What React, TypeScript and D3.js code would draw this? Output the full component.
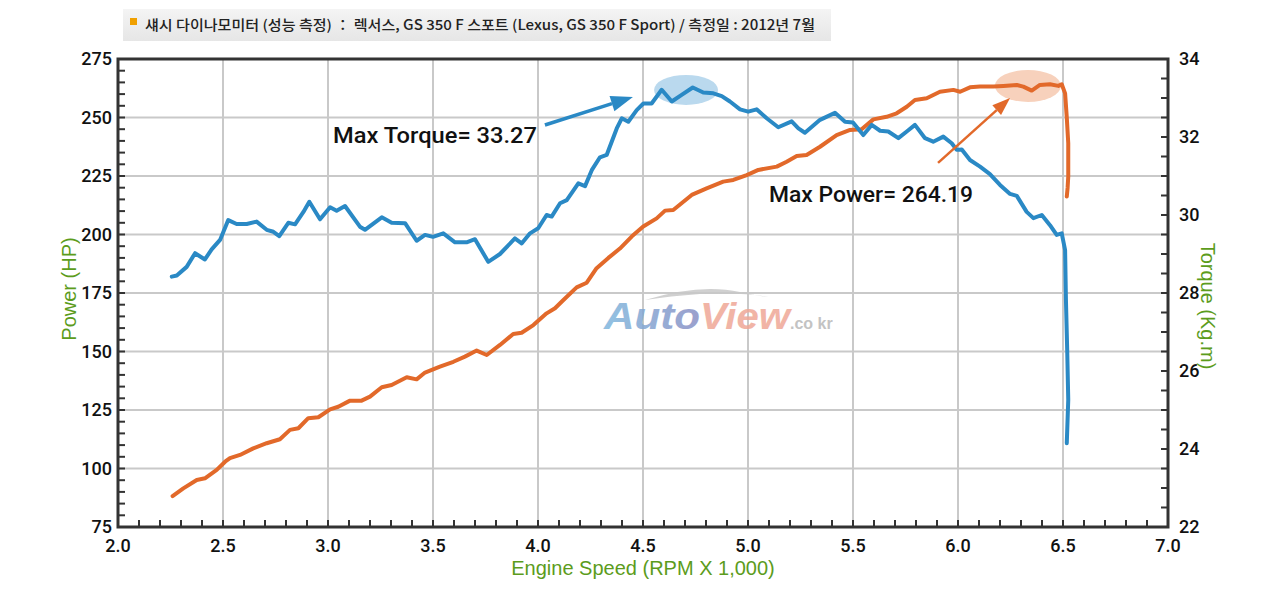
import React from 'react'
import * as d3 from 'd3'

// torque curve (Kg.m) against engine speed (x1000 rpm)
const torqueRpm: number[] = [
  2.256, 2.28, 2.327, 2.367, 2.414, 2.446, 2.486, 2.525, 2.565, 2.613,
  2.66, 2.708, 2.74, 2.768, 2.811, 2.843, 2.883, 2.911, 2.962, 3.01,
  3.041, 3.081, 3.152, 3.176, 3.256, 3.303, 3.367, 3.422, 3.462, 3.5,
  3.549, 3.605, 3.66, 3.7, 3.763, 3.819, 3.89, 3.922, 3.962, 4.001,
  4.041, 4.065, 4.105, 4.137, 4.192, 4.224, 4.256, 4.295, 4.327, 4.375,
  4.399, 4.43, 4.47, 4.502, 4.541, 4.589, 4.637, 4.684, 4.737, 4.787,
  4.835, 4.875, 4.914, 4.962, 5.001, 5.041, 5.089, 5.144, 5.208, 5.24,
  5.271, 5.343, 5.414, 5.462, 5.5, 5.549, 5.589, 5.629, 5.668, 5.716,
  5.756, 5.795, 5.843, 5.882, 5.93, 5.97, 5.994, 6.018, 6.057, 6.105,
  6.152, 6.2, 6.248, 6.28, 6.327, 6.359, 6.399, 6.438, 6.47, 6.494,
  6.51, 6.514, 6.52, 6.525, 6.518,
]
const torqueValues: number[] = [
  28.42, 28.45, 28.67, 29.02, 28.86, 29.12, 29.36, 29.87, 29.77, 29.77,
  29.83, 29.62, 29.57, 29.46, 29.8, 29.76, 30.08, 30.34, 29.89, 30.2,
  30.11, 30.23, 29.7, 29.62, 29.94, 29.8, 29.79, 29.34, 29.49, 29.44,
  29.53, 29.3, 29.3, 29.38, 28.8, 29.0, 29.4, 29.27, 29.53, 29.66,
  30.0, 29.96, 30.3, 30.38, 30.81, 30.74, 31.15, 31.48, 31.54, 32.22,
  32.48, 32.39, 32.69, 32.86, 32.86, 33.21, 32.91, 33.08, 33.27, 33.14,
  33.12, 33.05, 32.91, 32.71, 32.65, 32.71, 32.48, 32.25, 32.4, 32.22,
  32.11, 32.44, 32.62, 32.39, 32.37, 32.05, 32.31, 32.16, 32.14, 31.97,
  32.14, 32.31, 31.97, 31.88, 32.01, 31.84, 31.67, 31.68, 31.41, 31.24,
  31.05, 30.77, 30.54, 30.49, 30.08, 29.92, 30.0, 29.74, 29.49, 29.53,
  29.1, 27.82, 26.54, 25.26, 24.15,
]

// power curve (HP)
const powerRpm: number[] = [
  2.26, 2.311, 2.375, 2.414, 2.47, 2.51, 2.533, 2.581, 2.644, 2.708,
  2.771, 2.819, 2.859, 2.906, 2.954, 3.01, 3.049, 3.105, 3.16, 3.2,
  3.256, 3.303, 3.375, 3.422, 3.462, 3.533, 3.597, 3.652, 3.708, 3.756,
  3.819, 3.882, 3.922, 3.978, 4.041, 4.081, 4.121, 4.184, 4.232, 4.279,
  4.335, 4.39, 4.446, 4.501, 4.565, 4.605, 4.644, 4.732, 4.803, 4.882,
  4.93, 4.994, 5.049, 5.137, 5.184, 5.232, 5.279, 5.343, 5.422, 5.486,
  5.541, 5.597, 5.66, 5.708, 5.756, 5.795, 5.851, 5.914, 5.978, 6.01,
  6.057, 6.105, 6.168, 6.216, 6.28, 6.311, 6.351, 6.39, 6.438, 6.478,
  6.494, 6.51, 6.518, 6.525, 6.525, 6.522, 6.518,
]
const powerValues: number[] = [
  88.2, 91.5, 95.1, 95.8, 99.4, 102.9, 104.4, 105.8, 108.6, 110.8,
  112.5, 116.5, 117.2, 121.5, 121.9, 125.3, 126.4, 129.0, 129.0, 130.7,
  134.7, 135.7, 139.0, 138.1, 141.0, 143.5, 145.6, 147.8, 150.4, 148.5,
  152.8, 157.5, 158.0, 161.3, 166.3, 168.5, 172.0, 177.4, 179.4, 185.6,
  190.0, 194.0, 199.1, 203.4, 206.9, 210.2, 210.5, 216.9, 219.7, 222.6,
  223.3, 225.4, 227.6, 229.0, 231.1, 233.5, 234.0, 237.5, 242.5, 244.7,
  245.0, 249.2, 250.3, 251.8, 254.6, 257.5, 258.2, 261.0, 261.8, 261.0,
  262.9, 263.2, 263.2, 263.5, 263.9, 263.2, 261.5, 263.9, 264.2, 263.5,
  264.19, 260.3, 250.0, 239.0, 224.7, 220.0, 216.2,
]

const xTicks: number[] = [2.0, 2.5, 3.0, 3.5, 4.0, 4.5, 5.0, 5.5, 6.0, 6.5, 7.0]
const powerTicks: number[] = [75, 100, 125, 150, 175, 200, 225, 250, 275]
const torqueTicks: number[] = [22, 24, 26, 28, 30, 32, 34]

const title = '섀시 다이나모미터 (성능 측정) ： 렉서스, GS 350 F 스포트 (Lexus, GS 350 F Sport) / 측정일 : 2012년 7월'
const maxTorqueLabel = 'Max Torque= 33.27'
const maxPowerLabel = 'Max Power= 264.19'

const App: React.FC = () => {
  const width = 1280
  const height = 600
  const left = 118
  const right = 1168
  const top = 59
  const bottom = 527

  const x = d3.scaleLinear().domain([2, 7]).range([left, right])
  const yP = d3.scaleLinear().domain([75, 275]).range([bottom, top])
  const yT = d3.scaleLinear().domain([22, 34]).range([bottom, top])

  const torqueLine = d3.line<number>()
    .x((_, i) => x(torqueRpm[i]))
    .y(d => yT(d))
  const powerLine = d3.line<number>()
    .x((_, i) => x(powerRpm[i]))
    .y(d => yP(d))

  const xMinor = d3.range(21, 70).map(v => v / 10)
  const pMinor = d3.range(80, 275, 5)
  const tMinor = d3.range(22.5, 34, 0.5)

  const green = '#5c9c1c'
  const blue = '#2a89c5'
  const orange = '#e2692a'
  const font = '"Liberation Sans", Arial, sans-serif'
  const numFont = 'Roboto, "Liberation Sans", sans-serif'

  // arrow: shaft + triangular head
  const arrow = (x1: number, y1: number, x2: number, y2: number, color: string, w: number, hl: number, hw: number) => {
    const ang = Math.atan2(y2 - y1, x2 - x1)
    const bx = x2 - hl * Math.cos(ang)
    const by = y2 - hl * Math.sin(ang)
    const nx = -Math.sin(ang) * hw / 2
    const ny = Math.cos(ang) * hw / 2
    return (
      <g>
        <line x1={x1} y1={y1} x2={bx} y2={by} stroke={color} strokeWidth={w} />
        <path d={`M${x2},${y2}L${bx + nx},${by + ny}L${bx - nx},${by - ny}Z`} fill={color} />
      </g>
    )
  }

  return (
    <svg width={width} height={height} style={{ position: 'absolute', left: 0, top: 0, background: '#fff' }}>
      <defs>
        <linearGradient id="titleBg" x1="0" y1="0" x2="0" y2="1">
          <stop offset="0" stopColor="#f4f4f4" />
          <stop offset="1" stopColor="#e6e6e6" />
        </linearGradient>
        <linearGradient id="autoGrad" x1="0" y1="0" x2="1" y2="0">
          <stop offset="0" stopColor="#7fb8de" />
          <stop offset="1" stopColor="#8a8fc4" />
        </linearGradient>
      </defs>

      {/* title bar */}
      <rect x={123} y={9} width={708} height={32} fill="url(#titleBg)" />
      <rect x={130} y={18} width={7} height={7} fill="#f0a000" />
      <text x={145} y={30} fontSize={14} fontWeight={500} fill="#222" textLength={670} lengthAdjust="spacingAndGlyphs"
        style={{ fontFamily: '"Noto Sans CJK KR", "Noto Sans", sans-serif' }}>
        {title}
      </text>

      {/* grid */}
      {xTicks.slice(1, -1).map(v => (
        <line key={'gx' + v} x1={x(v)} x2={x(v)} y1={top} y2={bottom} stroke="#c9c9c9" strokeWidth={2} />
      ))}
      {powerTicks.slice(1, -1).map(v => (
        <line key={'gy' + v} x1={left} x2={right} y1={yP(v)} y2={yP(v)} stroke="#c9c9c9" strokeWidth={2} />
      ))}

      {/* watermark */}
      <g opacity={0.85}>
        <path d="M 645,300 Q 700,283 740,292 Q 760,296 768,297 Q 745,292 700,294 Q 670,296 645,300 Z" fill="#c8c8c8" />
        <text x={604} y={329} fontSize={37} fontWeight="bold" fontStyle="italic" fill="url(#autoGrad)"
          style={{ fontFamily: font }} textLength={96} lengthAdjust="spacingAndGlyphs">Auto</text>
        <text x={700} y={329} fontSize={37} fontWeight="bold" fontStyle="italic" fill="#efa897"
          style={{ fontFamily: font }} textLength={90} lengthAdjust="spacingAndGlyphs">View</text>
        <text x={790} y={329} fontSize={16} fontWeight="bold" fill="#b9b9b9"
          style={{ fontFamily: font }}>.co kr</text>
      </g>

      {/* highlight ellipses */}
      <ellipse cx={x(4.705)} cy={yP(261.8)} rx={32} ry={15} fill="#a9d0ea" opacity={0.8} />
      <ellipse cx={x(6.333)} cy={yP(263.5)} rx={33} ry={16} fill="#f5c6ab" opacity={0.8} />

      {/* curves */}
      <path d={powerLine(powerValues) ?? ''} fill="none" stroke={orange} strokeWidth={4} strokeLinejoin="round" strokeLinecap="round" />
      <path d={torqueLine(torqueValues) ?? ''} fill="none" stroke={blue} strokeWidth={4} strokeLinejoin="round" strokeLinecap="round" />

      {/* annotations */}
      {arrow(x(4.033), yP(246.8), x(4.452), yP(258.8), blue, 3.5, 22, 16)}
      {arrow(x(5.905), yP(230.6), x(6.248), yP(258.3), orange, 2.5, 18, 13)}
      <text x={333} y={143} fontSize={22} fontWeight={500} fill="#111" style={{ fontFamily: numFont }} textLength={204} lengthAdjust="spacingAndGlyphs">
        {maxTorqueLabel}
      </text>
      <text x={769} y={202} fontSize={22} fontWeight={500} fill="#111" style={{ fontFamily: numFont }} textLength={204} lengthAdjust="spacingAndGlyphs">
        {maxPowerLabel}
      </text>

      {/* minor ticks */}
      {xMinor.map(v => (
        <line key={'xm' + v} x1={x(v)} x2={x(v)} y1={bottom} y2={bottom - 7} stroke="#333" strokeWidth={2} />
      ))}
      {pMinor.map(v => (
        <line key={'pm' + v} x1={left} x2={left + 7} y1={yP(v)} y2={yP(v)} stroke="#333" strokeWidth={2} />
      ))}
      {tMinor.map(v => (
        <line key={'tm' + v} x1={right} x2={right - 7} y1={yT(v)} y2={yT(v)} stroke="#333" strokeWidth={2} />
      ))}

      {/* frame */}
      <rect x={left} y={top} width={right - left} height={bottom - top} fill="none" stroke="#333" strokeWidth={3} />

      {/* tick labels */}
      {xTicks.map(v => (
        <text key={'xl' + v} x={x(v)} y={552} textAnchor="middle" fontSize={18} fontWeight={500} fill="#111" style={{ fontFamily: numFont }}>
          {v.toFixed(1)}
        </text>
      ))}
      {powerTicks.map(v => (
        <text key={'pl' + v} x={112} y={yP(v)} dy="0.35em" textAnchor="end" fontSize={18} fontWeight={500} fill="#111" style={{ fontFamily: numFont }}>
          {v}
        </text>
      ))}
      {torqueTicks.map(v => (
        <text key={'tl' + v} x={1179} y={yT(v)} dy="0.35em" textAnchor="start" fontSize={18} fontWeight={500} fill="#111" style={{ fontFamily: numFont }}>
          {v}
        </text>
      ))}

      {/* axis titles */}
      <text transform="translate(76,289) rotate(-90)" textAnchor="middle" fontSize={20} fill={green} style={{ fontFamily: font }}>
        Power (HP)
      </text>
      <text transform="translate(1201,306) rotate(90)" textAnchor="middle" fontSize={20} fill={green} style={{ fontFamily: font }}>
        Torque (Kg.m)
      </text>
      <text x={643} y={575} textAnchor="middle" fontSize={20} fill={green} style={{ fontFamily: font }}>
        Engine Speed (RPM X 1,000)
      </text>
    </svg>
  )
}

export default App
